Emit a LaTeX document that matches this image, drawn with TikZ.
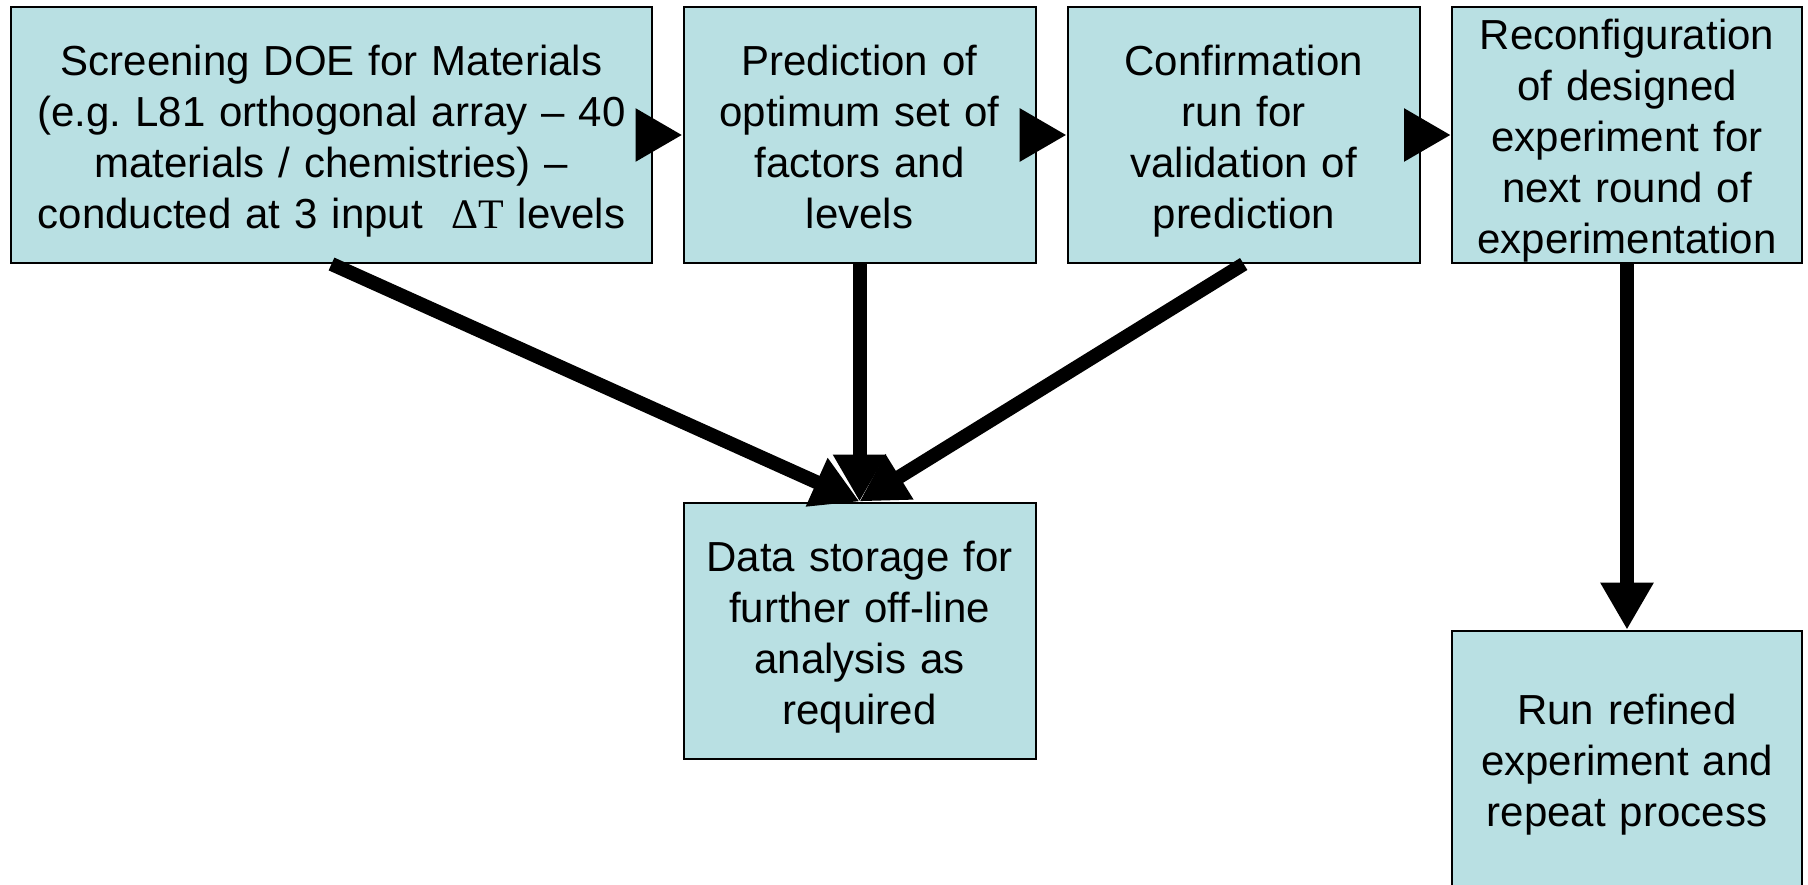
\documentclass[tikz,border=0pt]{standalone}
\usepackage{fontspec}
\setmainfont{Liberation Sans}
\newfontfamily\deltafont{Liberation Serif}
\usepackage{tikz}
\usetikzlibrary{arrows.meta}
\definecolor{boxfill}{RGB}{185,224,227}
\tikzstyle{stage}=[rectangle, draw=black, line width=2pt, fill=boxfill, inner sep=0pt, align=center, font=\fontsize{42}{51}\selectfont, execute at begin node={\rule{0pt}{43pt}}, execute at end node={\rule[-9pt]{0pt}{9pt}}]
\tikzstyle{arrow}=[draw=black, line width=14pt, -{Triangle[length=47pt, width=50pt]}]

\begin{document}
\begin{tikzpicture}[x=1pt, y=-1pt]
		   \useasboundingbox (0, 0) rectangle (1808, 885);
		   \begin{scope}
			   \node (0) at (331.5, 135)[stage, minimum width=641pt, minimum height=256pt, text width=620pt] {Screening DOE for Materials\\(e.g.\ L81 orthogonal array -- 40\\materials / chemistries) --\\conducted at 3 input\ \ {\deltafont ΔT} levels};
			   \node (1) at (859.5, 135)[stage, minimum width=352pt, minimum height=256pt, text width=340pt] {Prediction of\\optimum set of\\factors and\\levels};
			   \node (2) at (1243.7, 135)[stage, minimum width=352pt, minimum height=256pt, text width=340pt] {Confirmation\\run for\\validation of\\prediction};
			   \node (3) at (1627, 135)[stage, minimum width=350pt, minimum height=256pt, text width=340pt] {Reconfiguration\\of designed\\experiment for\\next round of\\experimentation};
			   \node (4) at (859.5, 630.5)[stage, minimum width=352pt, minimum height=256pt, text width=340pt] {Data storage for\\further off-line\\analysis as\\required};
			   \node (5) at (1627, 758.7)[stage, minimum width=350pt, minimum height=256pt, text width=340pt] {Run refined\\experiment and\\repeat process};
		   \end{scope}
		   \begin{scope}
			   \path [arrow] ([xshift=-16pt]0.east) -- (1.west);
			   \path [arrow] ([xshift=-16pt]1.east) -- (2.west);
			   \path [arrow] ([xshift=-16pt]2.east) -- (3.west);
			   \path [arrow] (0.south) -- (4.north);
			   \path [arrow] (1.south) -- (4.north);
			   \path [arrow] (2.south) -- (4.north);
			   \path [arrow] (3.south) -- (5.north);
		   \end{scope}
	   \end{tikzpicture}
\end{document}
